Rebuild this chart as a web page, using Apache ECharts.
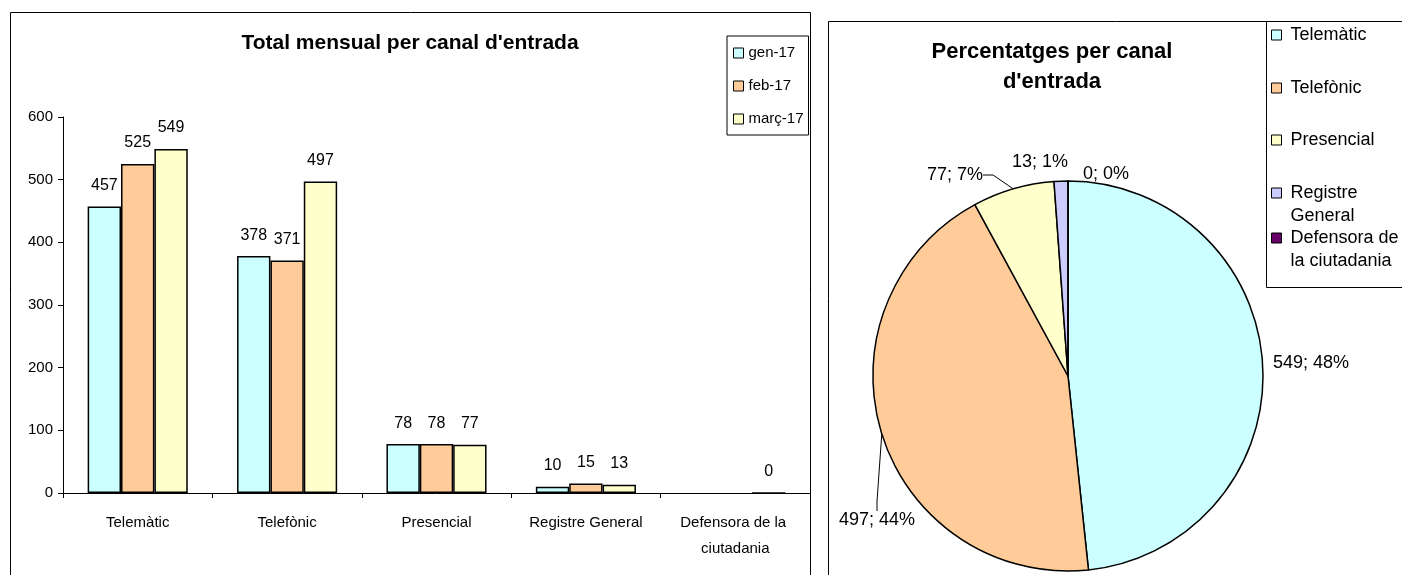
<!DOCTYPE html>
<html>
<head>
<meta charset="utf-8">
<script src="https://cdn.jsdelivr.net/npm/echarts@6/dist/echarts.min.js"></script>
<style>
html,body{margin:0;padding:0;background:#fff;}
#chart{width:1402px;height:575px;}
</style>
</head>
<body>
<div id="chart"></div>
<script>
// ---- data ----
const categories = ['Telemàtic', 'Telefònic', 'Presencial', 'Registre General', 'Defensora de la ciutadania'];
const months = ['gen-17', 'feb-17', 'març-17'];
const gen17 = [457, 378, 78, 10, null];
const feb17 = [525, 371, 78, 15, null];
const marc17 = [549, 497, 77, 13, 0];
const pieValues = [549, 497, 77, 13, 0];
const pieLegendLabels = ['Telemàtic', 'Telefònic', 'Presencial', 'Registre\nGeneral', 'Defensora de\nla ciutadania'];
const barTitle = "Total mensual per canal d'entrada";
const pieTitle = "Percentatges per canal\nd'entrada";

// ---- layout / styles ----
const FONT = 'Liberation Sans, Arial, sans-serif';
const barColors = ['#CCFFFF', '#FFCC99', '#FFFFCC'];
const pieColors = ['#CCFFFF', '#FFCC99', '#FFFFCC', '#CCCCFF', '#660066'];
const pieLegendTops = [23.5, 76.5, 128.5, 158.5, 203.5];
const pieLabelAnchors = [[1273, 363], [839, 520], [927, 175], [1012, 162], [1083, 174]];
const pieLabelLineShown = [false, true, true, false, false];

const chart = echarts.init(document.getElementById('chart'), null, {renderer: 'canvas'});

const barSeries = [gen17, feb17, marc17].map((arr, i) => ({
  name: months[i],
  type: 'bar',
  data: arr,
  barGap: '0%',
  barCategoryGap: '33%',
  itemStyle: {color: barColors[i], borderColor: '#000', borderWidth: 1.5},
  label: {show: true, position: 'top', distance: 13, color: '#000', fontSize: 16, fontFamily: FONT},
  emphasis: {disabled: true}
}));

const pieLegends = categories.map((name, i) => {
  const multi = pieLegendLabels[i].indexOf('\n') >= 0;
  return {
    orient: 'vertical',
    left: 1266,
    top: pieLegendTops[i],
    padding: [0, 0, 0, 5],
    icon: 'rect',
    itemWidth: 10,
    itemHeight: 10,
    selectedMode: false,
    itemStyle: {borderColor: '#000', borderWidth: 1},
    textStyle: {fontSize: 18, lineHeight: 23, color: '#000', fontFamily: FONT, padding: [0, 0, 0, 4]},
    formatter: (n) => (multi ? '\n' : '') + pieLegendLabels[categories.indexOf(n)],
    data: [name]
  };
});

const option = {
  animation: false,
  textStyle: {fontFamily: FONT},
  title: [
    {text: barTitle, left: 410, top: 33, padding: 0, textAlign: 'center',
      textStyle: {fontSize: 21, fontWeight: 'bold', color: '#000', fontFamily: FONT}},
    {text: pieTitle, left: 1052, top: 37, padding: 0, textAlign: 'center',
      textStyle: {fontSize: 22, fontWeight: 'bold', color: '#000', lineHeight: 30, fontFamily: FONT}}
  ],
  legend: [
    {
      orient: 'vertical',
      left: 727,
      top: 36,
      padding: [8.5, 5, 7.5, 6],
      itemGap: 16,
      icon: 'rect',
      itemWidth: 10,
      itemHeight: 10,
      selectedMode: false,
      borderColor: '#000',
      borderWidth: 1,
      backgroundColor: '#fff',
      itemStyle: {borderColor: '#000', borderWidth: 1},
      textStyle: {fontSize: 15, lineHeight: 17, color: '#000', fontFamily: FONT},
      data: months
    }
  ].concat(pieLegends),
  grid: {left: 63, right: 592, top: 117, bottom: 82, containLabel: false},
  xAxis: {
    type: 'category',
    data: categories,
    axisLine: {lineStyle: {color: '#000', width: 1}},
    axisTick: {show: true, length: 5, lineStyle: {color: '#000'}},
    axisLabel: {color: '#000', fontSize: 15, margin: 17, lineHeight: 26, width: 140, overflow: 'break', interval: 0, fontFamily: FONT},
    splitLine: {show: false}
  },
  yAxis: {
    type: 'value',
    min: 0,
    max: 600,
    interval: 100,
    axisLine: {show: true, lineStyle: {color: '#000', width: 1}},
    axisTick: {show: true, length: 5, lineStyle: {color: '#000'}},
    axisLabel: {color: '#000', fontSize: 15, margin: 10, fontFamily: FONT},
    splitLine: {show: false}
  },
  series: barSeries.concat([{
    name: 'Percentatges',
    type: 'pie',
    center: [1068, 376],
    radius: 195,
    startAngle: 90,
    clockwise: true,
    data: categories.map((c, i) => ({
      name: c, value: pieValues[i],
      itemStyle: {color: pieColors[i]},
      labelLine: {show: pieLabelLineShown[i]}
    })),
    itemStyle: {borderColor: '#000', borderWidth: 1.5},
    label: {
      show: true,
      position: 'outside',
      color: '#000',
      fontSize: 18,
      fontFamily: FONT,
      formatter: (p) => p.value + '; ' + Math.round(p.percent) + '%'
    },
    labelLine: {show: true, length: 12, length2: 10, lineStyle: {color: '#000', width: 1}},
    labelLayout: (params) => ({
      x: pieLabelAnchors[params.dataIndex][0],
      y: pieLabelAnchors[params.dataIndex][1],
      align: 'left',
      verticalAlign: 'middle'
    }),
    emphasis: {disabled: true}
  }]),
  graphic: [
    {type: 'rect', shape: {x: 10.5, y: 12.5, width: 800, height: 700}, style: {fill: null, stroke: '#000', lineWidth: 1}, silent: true},
    {type: 'rect', shape: {x: 828.5, y: 21.5, width: 700, height: 700}, style: {fill: null, stroke: '#000', lineWidth: 1}, silent: true},
    {type: 'rect', shape: {x: 1266.5, y: 21.5, width: 200, height: 266}, style: {fill: null, stroke: '#000', lineWidth: 1}, silent: true}
  ]
};

chart.setOption(option);
</script>
</body>
</html>
